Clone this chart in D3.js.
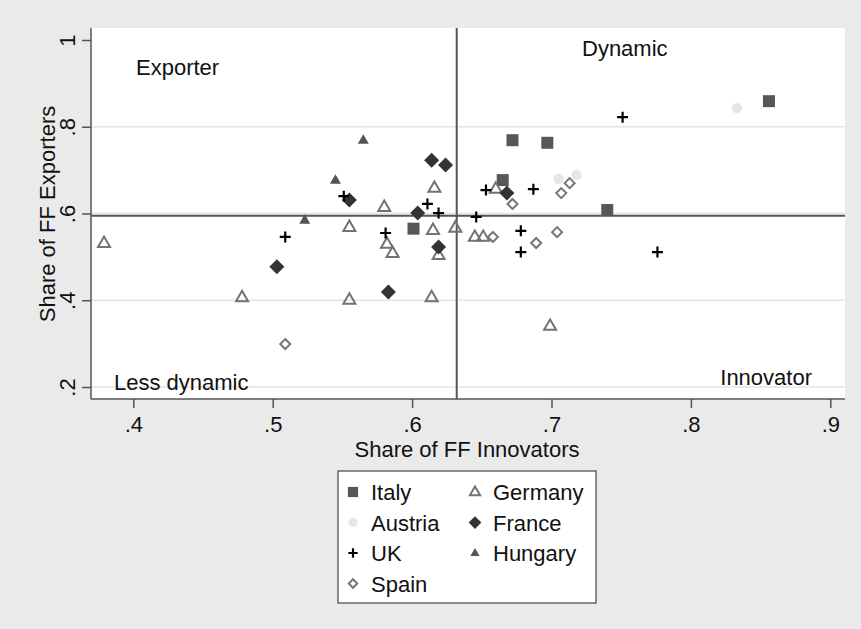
<!DOCTYPE html>
<html>
<head>
<meta charset="utf-8">
<script src="https://cdn.jsdelivr.net/npm/d3@7"></script>
<style>
  html, body { margin: 0; padding: 0; background: #eaeaea; }
  text { font-family: "Liberation Sans", Arial, sans-serif; fill: #111; }
</style>
</head>
<body>
<svg id="chart" width="861" height="629"></svg>
<script>
// ---- data (x = share of FF innovators, y = share of FF exporters) ----
const italy = [[0.856,0.859],[0.672,0.769],[0.697,0.763],[0.665,0.677],[0.740,0.608],[0.601,0.565]];
const austria = [[0.833,0.843],[0.705,0.680],[0.718,0.689]];
const uk = [[0.751,0.822],[0.551,0.640],[0.611,0.622],[0.619,0.601],[0.646,0.592],[0.509,0.546],
            [0.581,0.555],[0.653,0.654],[0.687,0.656],[0.678,0.560],[0.678,0.511],[0.776,0.511]];
const spain = [[0.509,0.299],[0.672,0.622],[0.713,0.670],[0.707,0.647],[0.658,0.546],[0.689,0.532],[0.704,0.557]];
const germany = [[0.379,0.532],[0.478,0.407],[0.555,0.569],[0.555,0.401],[0.580,0.615],[0.582,0.530],
                 [0.586,0.509],[0.616,0.659],[0.615,0.562],[0.619,0.504],[0.614,0.407],[0.631,0.567],
                 [0.645,0.546],[0.651,0.546],[0.660,0.657],[0.699,0.341]];
const france = [[0.503,0.477],[0.555,0.631],[0.614,0.723],[0.624,0.712],[0.604,0.601],[0.619,0.523],
                [0.583,0.419],[0.668,0.647]];
const hungary = [[0.565,0.769],[0.545,0.677],[0.523,0.585]];

const xTicks = [0.4, 0.5, 0.6, 0.7, 0.8, 0.9];
const xTickLabels = [".4", ".5", ".6", ".7", ".8", ".9"];
const yTicks = [0.2, 0.4, 0.6, 0.8, 1.0];
const yTickLabels = [".2", ".4", ".6", ".8", "1"];
const refX = 0.632, refY = 0.595;
const quadrantLabels = ["Exporter", "Dynamic", "Less dynamic", "Innovator"];

// ---- layout ----
const svg = d3.select("#chart");
const plot = {left: 91, right: 845, top: 28, bottom: 399};
const x = d3.scaleLinear().domain([0.4, 0.9]).range([133.3, 830.3]);
const y = d3.scaleLinear().domain([0.2, 1.0]).range([387, 40]);

svg.append("rect").attr("x", 0).attr("y", 0).attr("width", 861).attr("height", 629).attr("fill", "#eaeaea");
svg.append("rect").attr("x", plot.left).attr("y", plot.top)
  .attr("width", plot.right - plot.left).attr("height", plot.bottom - plot.top).attr("fill", "#ffffff");

// gridlines
svg.append("g").selectAll("line").data(yTicks.filter(v => v < 1)).join("line")
  .attr("x1", plot.left).attr("x2", plot.right)
  .attr("y1", d => y(d)).attr("y2", d => y(d))
  .attr("stroke", "#e4e4e4").attr("stroke-width", 1.6);

// axes
const xAxis = d3.axisBottom(x).tickValues(xTicks).tickFormat((d, i) => xTickLabels[i]).tickSize(9).tickSizeOuter(0);
const gx = svg.append("g").attr("transform", `translate(0,${plot.bottom})`).call(xAxis);
gx.select(".domain").remove();
gx.selectAll(".tick line").attr("stroke", "#555").attr("stroke-width", 1.5);
gx.selectAll(".tick text").attr("font-size", 22).attr("dy", 0).attr("y", 33)
  .attr("font-family", "Liberation Sans, Arial, sans-serif").attr("fill", "#111");

const yAxis = d3.axisLeft(y).tickValues(yTicks).tickFormat((d, i) => yTickLabels[i]).tickSize(9).tickSizeOuter(0);
const gy = svg.append("g").attr("transform", `translate(${plot.left},0)`).call(yAxis);
gy.select(".domain").remove();
gy.selectAll(".tick line").attr("stroke", "#555").attr("stroke-width", 1.5);
gy.selectAll(".tick text").attr("font-size", 22).attr("x", null).attr("dy", null)
  .attr("text-anchor", "middle").attr("fill", "#111")
  .attr("font-family", "Liberation Sans, Arial, sans-serif")
  .attr("transform", "translate(-16,0) rotate(-90)");

// axis lines
svg.append("line").attr("x1", plot.left).attr("x2", plot.left).attr("y1", plot.top).attr("y2", plot.bottom)
  .attr("stroke", "#555").attr("stroke-width", 1.5);
svg.append("line").attr("x1", plot.left).attr("x2", plot.right).attr("y1", plot.bottom).attr("y2", plot.bottom)
  .attr("stroke", "#555").attr("stroke-width", 1.5);

// axis titles
svg.append("text").attr("x", 467).attr("y", 457).attr("text-anchor", "middle").attr("font-size", 22)
  .text("Share of FF Innovators");
svg.append("text").attr("transform", "translate(55,214) rotate(-90)").attr("text-anchor", "middle").attr("font-size", 22)
  .text("Share of FF Exporters");

// reference lines
svg.append("line").attr("x1", x(refX)).attr("x2", x(refX)).attr("y1", plot.top).attr("y2", plot.bottom)
  .attr("stroke", "#555").attr("stroke-width", 2);
svg.append("line").attr("x1", plot.left).attr("x2", plot.right).attr("y1", y(refY)).attr("y2", y(refY))
  .attr("stroke", "#555").attr("stroke-width", 2);

// quadrant labels
svg.append("text").attr("x", 136).attr("y", 75).attr("font-size", 22).text(quadrantLabels[0]);
svg.append("text").attr("x", 582).attr("y", 56).attr("font-size", 22).text(quadrantLabels[1]);
svg.append("text").attr("x", 114).attr("y", 390).attr("font-size", 22).text(quadrantLabels[2]);
svg.append("text").attr("x", 812).attr("y", 385).attr("font-size", 22).attr("text-anchor", "end").text(quadrantLabels[3]);

// ---- marker shapes ----
function square(s) { return `M${-s},${-s}H${s}V${s}H${-s}Z`; }
function diamond(s) { return `M0,${-s}L${s},0L0,${s}L${-s},0Z`; }
function triangle(w) { const h = w * 0.866; return `M0,${-h*0.62}L${w/2},${h*0.38}L${-w/2},${h*0.38}Z`; }
function cross(s) { return `M${-s},0H${s}M0,${-s}V${s}`; }
function circle(r) { return `M${r},0A${r},${r} 0 1,1 ${-r},0A${r},${r} 0 1,1 ${r},0Z`; }

const series = [
  {name: "Italy", data: italy, path: square(6), fill: "#575757", stroke: "none", sw: 0},
  {name: "Germany", data: germany, path: triangle(12), fill: "none", stroke: "#737373", sw: 2},
  {name: "Austria", data: austria, path: circle(5.2), fill: "#e6e6e6", stroke: "none", sw: 0},
  {name: "France", data: france, path: diamond(7.5), fill: "#333333", stroke: "none", sw: 0},
  {name: "UK", data: uk, path: cross(5.5), fill: "none", stroke: "#000000", sw: 2.2},
  {name: "Hungary", data: hungary, path: triangle(11), fill: "#555555", stroke: "none", sw: 0},
  {name: "Spain", data: spain, path: diamond(5), fill: "none", stroke: "#767676", sw: 2}
];

series.forEach(s => {
  svg.append("g").selectAll("path").data(s.data).join("path")
    .attr("d", s.path)
    .attr("transform", d => `translate(${x(d[0])},${y(d[1])})`)
    .attr("fill", s.fill).attr("stroke", s.stroke).attr("stroke-width", s.sw);
});

// ---- legend ----
const legend = svg.append("g");
legend.append("rect").attr("x", 338).attr("y", 471).attr("width", 258).attr("height", 132)
  .attr("fill", "#ffffff").attr("stroke", "#444").attr("stroke-width", 1.2);
const legendLayout = [
  ["Italy", 0, 0], ["Germany", 1, 0], ["Austria", 0, 1], ["France", 1, 1],
  ["UK", 0, 2], ["Hungary", 1, 2], ["Spain", 0, 3]
];
const legendScaleFactor = 0.85;
legendLayout.forEach(([name, col, row]) => {
  const s = series.find(d => d.name === name);
  const sx = col === 0 ? 353 : 475;
  const sy = 492 + row * 30.5;
  legend.append("path").attr("d", s.path)
    .attr("transform", `translate(${sx},${sy}) scale(${legendScaleFactor})`)
    .attr("fill", s.fill).attr("stroke", s.stroke).attr("stroke-width", s.sw / legendScaleFactor);
  legend.append("text").attr("x", col === 0 ? 371 : 493).attr("y", sy + 8).attr("font-size", 22).text(name);
});
</script>
</body>
</html>
